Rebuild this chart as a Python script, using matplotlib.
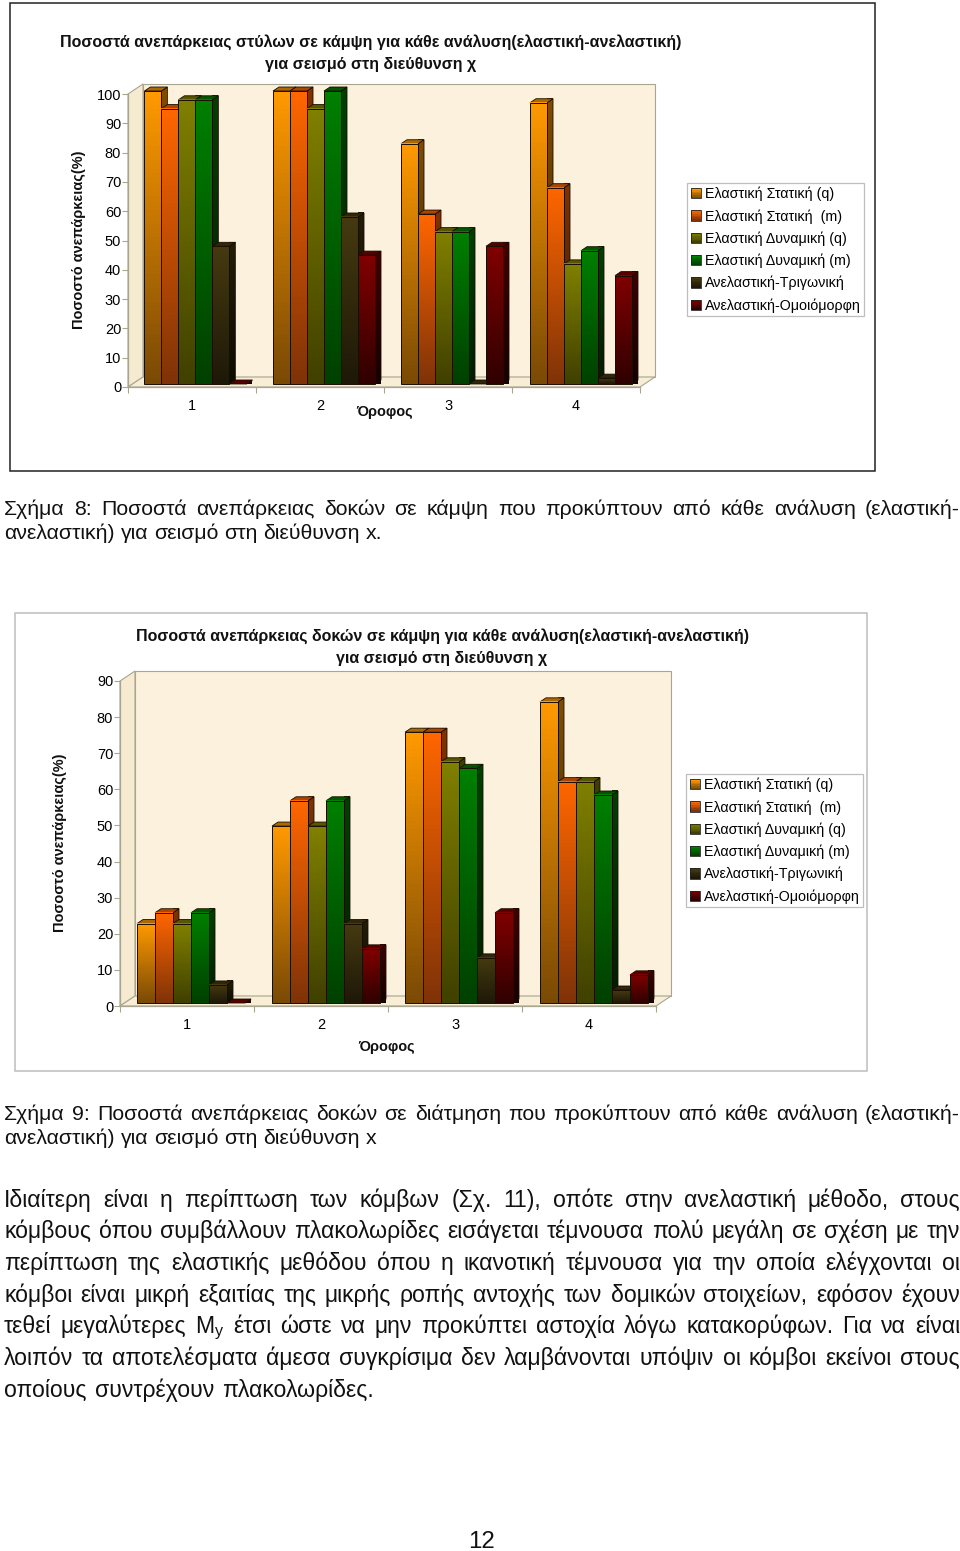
import numpy as np
import matplotlib
matplotlib.use("Agg")
import matplotlib.pyplot as plt
from matplotlib.colors import LinearSegmentedColormap, to_rgb
from matplotlib.patches import Polygon, Patch, Rectangle
from matplotlib.legend_handler import HandlerBase

plt.rcParams['font.family'] = ['Liberation Sans', 'DejaVu Sans']
plt.rcParams['mathtext.fontset'] = 'custom'
plt.rcParams['mathtext.rm'] = 'Liberation Sans'
plt.rcParams['mathtext.default'] = 'rm'

floors = ['1', '2', '3', '4']
series_names = ['Ελαστική Στατική (q)', 'Ελαστική Στατική  (m)', 'Ελαστική Δυναμική (q)',
                'Ελαστική Δυναμική (m)', 'Ανελαστική-Τριγωνική', 'Ανελαστική-Ομοιόμορφη']
top_colors = ['#FF9900', '#FF6600', '#808000', '#008000', '#453A10', '#800000']
low_colors = ['#7A4A05', '#7F3308', '#404000', '#004000', '#1E1808', '#300000']

chart1_static_q = [100, 100, 82, 96]
chart1_static_m = [94, 100, 58, 67]
chart1_dyn_q = [97, 94, 52, 41]
chart1_dyn_m = [97, 100, 52, 45.5]
chart1_tri = [47, 57, 0, 2]
chart1_uni = [0, 44, 47, 37]

chart2_static_q = [22, 49, 75, 83.4]
chart2_static_m = [25, 56, 75, 61.3]
chart2_dyn_q = [22, 49, 66.8, 61.3]
chart2_dyn_m = [25, 56, 65, 57.6]
chart2_tri = [5, 22, 12.5, 3.6]
chart2_uni = [0, 15, 25, 7.8]

title1 = 'Ποσοστά ανεπάρκειας στύλων σε κάμψη για κάθε ανάλυση(ελαστική-ανελαστική)\nγια σεισμό στη διεύθυνση χ'
title2 = 'Ποσοστά ανεπάρκειας δοκών σε κάμψη για κάθε ανάλυση(ελαστική-ανελαστική)\nγια σεισμό στη διεύθυνση χ'
ylabel1 = 'Ποσοστό ανεπάρκειας(%)'
xlabel_text = 'Όροφος'

W, H = 960, 1551
fig = plt.figure(figsize=(W / 100, H / 100), dpi=100)
page = fig.add_axes([0, 0, 1, 1], zorder=0)
page.set_xlim(0, W)
page.set_ylim(H, 0)
page.axis('off')
renderer = fig.canvas.get_renderer()
PT = 0.72


class GradientSwatch(HandlerBase):
    def create_artists(self, legend, handle, xd, yd, w, h, fontsize, trans):
        c1 = np.array(to_rgb(handle.get_facecolor()))
        c2 = np.array(to_rgb(handle.get_edgecolor()))
        n = 6
        out = []
        for i in range(n):
            f = i / (n - 1)
            out.append(Rectangle((-xd, -yd + h * (1 - (i + 1) / n)), w, h / n,
                                 fc=c1 * (1 - f) + c2 * f, ec='none', transform=trans))
        out.append(Rectangle((-xd, -yd), w, h, fc='none', ec='#222222', lw=0.6, transform=trans))
        return out


def px_axes(x0, x1, ytop, ybot):
    ax = fig.add_axes([x0 / W, 1 - ybot / H, (x1 - x0) / W, (ybot - ytop) / H], zorder=2)
    ax.patch.set_alpha(0)
    return ax


def gradient_face(ax, extent, c1, c2, clip=None, z=3):
    cmap = LinearSegmentedColormap.from_list('g', [c2, c1])
    im = ax.imshow(np.linspace(1, 0, 64)[:, None], extent=extent, origin='upper', aspect='auto',
                   cmap=cmap, vmin=0, vmax=1, zorder=z, clip_on=False)
    if clip is not None:
        ax.add_patch(clip)
        im.set_clip_path(clip)
    return im


def shade(c, f):
    return tuple(v * f for v in to_rgb(c))


def draw_chart(rect, ymax, ystep, series, group_offset_px, bar_px, legend_xy, title, title_xy,
               ylabel_xy, xlabel_xy, frame, frame_col):
    x0, x1, ytop, ybot = rect
    fx0, fx1, fy0, fy1 = frame
    page.add_patch(Rectangle((fx0, fy0), fx1 - fx0, fy1 - fy0, fc='white', ec=frame_col, lw=1.1))
    ax = px_axes(x0, x1, ytop, ybot)
    ppx = (x1 - x0) / 4
    ppy = (ybot - ytop) / ymax
    wall_dx, wall_dy = 15 / ppx, 10 / ppy
    wall_edge = '#A8A690'
    back = [(wall_dx, wall_dy), (4 + wall_dx, wall_dy), (4 + wall_dx, ymax + wall_dy), (wall_dx, ymax + wall_dy)]
    side = [(0, 0), (wall_dx, wall_dy), (wall_dx, ymax + wall_dy), (0, ymax)]
    floor = [(0, 0), (4, 0), (4 + wall_dx, wall_dy), (wall_dx, wall_dy)]
    ax.add_patch(Polygon(back, fc='#FBF1DD', ec=wall_edge, lw=0.8, clip_on=False, zorder=1))
    ax.add_patch(Polygon(side, fc='#F6EAD0', ec=wall_edge, lw=0.8, clip_on=False, zorder=1))
    ax.add_patch(Polygon(floor, fc='#F8EDD5', ec=wall_edge, lw=0.8, clip_on=False, zorder=1))

    bw = bar_px / ppx
    dx, dy = 6 / ppx, 4 / ppy
    oy = 3 / ppy
    z = 3
    for g in range(4):
        start = g + group_offset_px[g] / ppx
        for s, vals in enumerate(series):
            v = vals[g]
            l, r = start + s * bw, start + (s + 1) * bw
            base, top = oy, oy + v
            c1, c2 = top_colors[s], low_colors[s]
            side_poly = Polygon([(r, base), (r + dx, base + dy), (r + dx, top + dy), (r, top)],
                                fc='none', ec='none', clip_on=False, zorder=z)
            gradient_face(ax, [r, r + dx, base, top + dy], shade(c1, 0.5), shade(c2, 0.45), side_poly, z)
            ax.add_patch(Polygon([(r, base), (r + dx, base + dy), (r + dx, top + dy), (r, top)],
                                 fc='none', ec='#1a0d00', lw=0.6, clip_on=False, zorder=z + 0.2))
            ax.add_patch(Polygon([(l, top), (r, top), (r + dx, top + dy), (l + dx, top + dy)],
                                 fc=shade(c1, 0.68), ec='#1a0d00', lw=0.6, clip_on=False, zorder=z + 0.2))
            if v > 0:
                gradient_face(ax, [l, r, base, top], c1, c2, None, z + 0.3)
                ax.add_patch(Rectangle((l, base), bw, v, fc='none', ec='#1a0d00', lw=0.7,
                                       clip_on=False, zorder=z + 0.4))
            z += 1

    ax.set_xlim(0, 4)
    ax.set_ylim(0, ymax)
    for sp in ('top', 'right'):
        ax.spines[sp].set_visible(False)
    for sp in ('left', 'bottom'):
        ax.spines[sp].set_color(wall_edge)
        ax.spines[sp].set_linewidth(0.9)
        ax.spines[sp].set_zorder(1.5)
    ax.set_yticks(np.arange(0, ymax + 1, ystep))
    ax.tick_params(axis='y', labelsize=14.5 * PT, length=4, color=wall_edge, pad=1, width=0.8)
    ax.set_xticks(range(5))
    ax.set_xticklabels([])
    ax.tick_params(axis='x', which='major', length=4, color=wall_edge, width=0.8, direction='out')
    ax.set_xticks(np.arange(4) + 0.5, minor=True)
    ax.set_xticklabels(floors, minor=True, fontsize=14.5 * PT)
    ax.tick_params(axis='x', which='minor', length=0, pad=8.5)

    page.text(title_xy[0], title_xy[1], title, ha='center', va='center', fontsize=16 * PT,
              fontweight='bold', linespacing=1.55, color='#111111')
    page.text(ylabel_xy[0], ylabel_xy[1], ylabel1, rotation=90, ha='center', va='center',
              fontsize=14.5 * PT, fontweight='bold', color='#111111')
    page.text(xlabel_xy[0], xlabel_xy[1], xlabel_text, ha='center', va='center',
              fontsize=14.5 * PT, fontweight='bold', color='#111111')

    handles = [Patch(fc=t, ec=b2, label=n) for t, b2, n in zip(top_colors, low_colors, series_names)]
    leg = ax.legend(handles=handles, loc='upper left', bbox_to_anchor=legend_xy,
                    bbox_transform=page.transData, fontsize=14.2 * PT, fancybox=False, framealpha=1,
                    edgecolor='#BEBEBE', handlelength=0.72, handleheight=0.72, handletextpad=0.28,
                    labelspacing=0.55, borderpad=0.26, borderaxespad=0,
                    handler_map={Patch: GradientSwatch()})
    leg.get_frame().set_linewidth(0.9)
    leg.set_zorder(40)
    return ax


draw_chart((128, 640, 94, 387), 100, 10,
           [chart1_static_q, chart1_static_m, chart1_dyn_q, chart1_dyn_m, chart1_tri, chart1_uni],
           [16.4, 17, 17, 18], 17, (687, 183), title1, (371, 53), (79, 240), (384, 412),
           (10, 875, 3, 471), '#222222')
draw_chart((120, 656, 681, 1006), 90, 10,
           [chart2_static_q, chart2_static_m, chart2_dyn_q, chart2_dyn_m, chart2_tri, chart2_uni],
           [17, 18, 17, 18], 18, (686, 774), title2, (442, 647), (60, 843), (387, 1047),
           (15, 867, 613, 1071), '#BDBDBD')


def text_line(s, y, size, justify=True, x0=4, x1=960):
    words = s.split(' ')
    ts = [page.text(x0, y, w, fontsize=size * PT, va='baseline', ha='left', color='#111111') for w in words]
    widths = [t.get_window_extent(renderer).width for t in ts]
    space = page.text(0, 0, 'a a', fontsize=size * PT)
    a = page.text(0, 0, 'aa', fontsize=size * PT)
    sw = space.get_window_extent(renderer).width - a.get_window_extent(renderer).width
    space.remove()
    a.remove()
    gap = (x1 - x0 - sum(widths)) / (len(words) - 1) if justify else sw
    x = x0
    for t, w in zip(ts, widths):
        t.set_x(x)
        x += w + gap


CAPTION = 21.3
BODY = 23.0
lines = [
    ('Σχήμα 8: Ποσοστά ανεπάρκειας δοκών σε κάμψη που προκύπτουν από κάθε ανάλυση (ελαστική-', 515, CAPTION, 960),
    ('ανελαστική) για σεισμό στη διεύθυνση x.', 539, CAPTION, None),
    ('Σχήμα 9: Ποσοστά ανεπάρκειας δοκών σε διάτμηση που προκύπτουν από κάθε ανάλυση (ελαστική-', 1120, CAPTION, 960),
    ('ανελαστική) για σεισμό στη διεύθυνση x', 1144, CAPTION, None),
    ('Ιδιαίτερη είναι η περίπτωση των κόμβων (Σχ. 11), οπότε στην ανελαστική μέθοδο, στους', 1207, BODY, 960),
    ('κόμβους όπου συμβάλλουν πλακολωρίδες εισάγεται τέμνουσα πολύ μεγάλη σε σχέση με την', 1238, BODY, 960),
    ('περίπτωση της ελαστικής μεθόδου όπου η ικανοτική τέμνουσα για την οποία ελέγχονται οι', 1270, BODY, 960),
    ('κόμβοι είναι μικρή εξαιτίας της μικρής ροπής αντοχής των δομικών στοιχείων, εφόσον έχουν', 1302, BODY, 960),
    ('τεθεί μεγαλύτερες M$_y$ έτσι ώστε να μην προκύπτει αστοχία λόγω κατακορύφων. Για να είναι', 1333, BODY, 960),
    ('λοιπόν τα αποτελέσματα άμεσα συγκρίσιμα δεν λαμβάνονται υπόψιν οι κόμβοι εκείνοι στους', 1365, BODY, 960),
    ('οποίους συντρέχουν πλακολωρίδες.', 1397, BODY, 374),
]
for s, y, size, right in lines:
    if right is None:
        text_line(s, y, size, False)
    else:
        text_line(s, y, size, True, 4, right)
page.text(482, 1548, '12', fontsize=24 * PT, ha='center', va='baseline', color='#111111')

fig.savefig('out.png', dpi=100)
